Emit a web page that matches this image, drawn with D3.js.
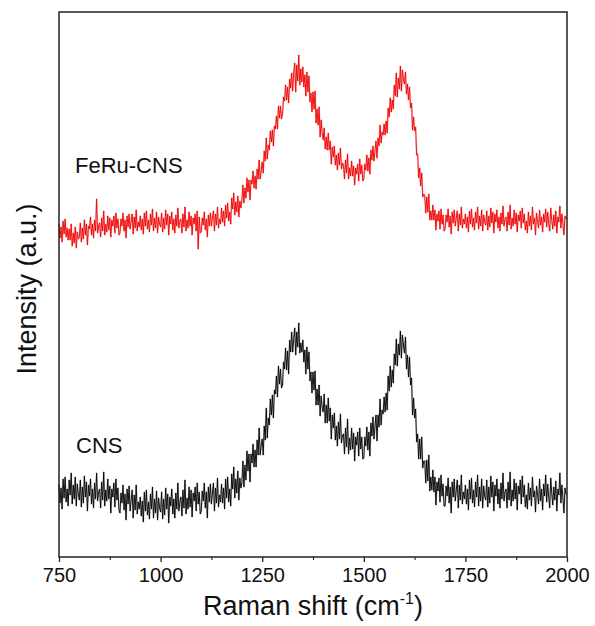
<!DOCTYPE html>
<html>
<head>
<meta charset="utf-8">
<script src="https://cdn.jsdelivr.net/npm/d3@7/dist/d3.min.js"></script>
<style>
  html, body { margin: 0; padding: 0; background: #fff; }
  svg { display: block; font-family: "Liberation Sans", Arial, sans-serif; }
</style>
</head>
<body>
<svg id="chart" width="595" height="626"></svg>
<script>
// Raman shift axis (cm^-1), sampled every 2.5 cm^-1 from 750 to 2000
const shiftStart = 750, shiftStep = 2.5;
const xTicks = [750, 1000, 1250, 1500, 1750, 2000];
const xMinorTicks = [875, 1125, 1375, 1625, 1875];
const seriesNames = ["FeRu-CNS", "CNS"];

// FeRu-CNS intensity (a.u.) (one row = 50 cm^-1)
const feruCNS = [
  333, 319, 330, 315, 336, 323, 338, 320, 329, 317, 328, 317, 333, 311, 324, 314, 330, 309, 325, 318,
  320, 334, 315, 329, 318, 337, 322, 333, 312, 331, 328, 340, 322, 333, 319, 337, 326, 358, 324, 331,
  334, 320, 339, 326, 346, 322, 333, 325, 341, 327, 339, 320, 337, 331, 341, 324, 344, 329, 338, 322,
  324, 338, 331, 344, 326, 337, 319, 341, 330, 343, 328, 336, 343, 323, 340, 329, 347, 326, 335, 330,
  341, 327, 338, 323, 344, 331, 346, 328, 337, 325, 343, 332, 348, 326, 339, 329, 345, 324, 340, 333,
  330, 344, 325, 339, 328, 347, 332, 343, 322, 341, 333, 345, 327, 338, 324, 342, 331, 349, 329, 336,
  338, 324, 343, 330, 350, 326, 337, 329, 345, 331, 341, 322, 339, 333, 343, 326, 346, 308, 340, 324,
  325, 339, 332, 345, 327, 338, 320, 342, 331, 344, 331, 339, 346, 326, 343, 332, 350, 329, 338, 333,
  349, 335, 346, 331, 352, 339, 354, 336, 345, 333, 359, 348, 364, 342, 355, 345, 361, 340, 356, 349,
  357, 372, 354, 369, 359, 379, 365, 377, 357, 377, 373, 386, 369, 381, 368, 388, 378, 397, 378, 386,
  395, 384, 406, 396, 419, 398, 412, 407, 426, 415, 427, 411, 431, 428, 441, 428, 451, 439, 451, 438,
  443, 460, 456, 472, 457, 470, 454, 478, 469, 484, 466, 484, 494, 465, 492, 476, 502, 472, 488, 475,
  490, 470, 482, 461, 485, 465, 481, 455, 464, 445, 465, 448, 466, 434, 448, 432, 450, 420, 437, 425,
  417, 429, 408, 420, 407, 424, 407, 416, 393, 410, 400, 411, 392, 402, 387, 404, 392, 409, 388, 394,
  392, 378, 397, 384, 403, 378, 389, 381, 396, 381, 391, 372, 389, 383, 393, 376, 398, 383, 392, 376,
  378, 393, 387, 402, 386, 399, 383, 407, 397, 411, 396, 406, 416, 399, 419, 411, 432, 414, 425, 422,
  433, 422, 436, 424, 449, 440, 459, 445, 457, 448, 472, 461, 484, 460, 479, 468, 491, 466, 487, 478,
  473, 485, 463, 473, 457, 470, 449, 454, 427, 440, 426, 430, 402, 403, 379, 389, 371, 384, 360, 363,
  361, 344, 360, 345, 363, 337, 346, 337, 352, 337, 347, 327, 343, 336, 346, 328, 348, 333, 342, 326,
  328, 342, 335, 348, 330, 341, 323, 345, 334, 347, 331, 339, 346, 326, 343, 332, 350, 329, 338, 333,
  343, 329, 340, 325, 346, 333, 348, 330, 339, 327, 345, 334, 350, 328, 341, 331, 347, 326, 342, 335,
  332, 346, 327, 341, 330, 349, 334, 345, 324, 343, 335, 347, 329, 340, 326, 344, 333, 351, 331, 338,
  340, 326, 345, 332, 352, 328, 339, 331, 347, 333, 344, 325, 342, 336, 346, 329, 349, 334, 343, 327,
  336, 324, 345, 331, 341, 327, 350, 333, 339, 322, 344, 336, 329, 347, 332, 340, 325, 343, 335, 348,
  330, 345, 334, 326, 349, 337, 328, 342, 331, 346, 324, 340, 335, 351, 329, 343, 333, 322, 341, 338,
  339
];

// CNS intensity (a.u.) (one row = 50 cm^-1)
const cns = [
  73, 54, 69, 48, 78, 59, 80, 55, 68, 51, 77, 62, 84, 53, 72, 58, 80, 51, 73, 63,
  57, 77, 50, 70, 54, 81, 60, 75, 46, 72, 61, 78, 53, 68, 49, 74, 58, 84, 56, 65,
  68, 49, 75, 57, 85, 51, 67, 56, 78, 58, 71, 44, 68, 60, 74, 50, 78, 57, 69, 47,
  44, 64, 54, 72, 47, 63, 37, 68, 53, 71, 46, 57, 67, 39, 62, 47, 72, 43, 55, 48,
  60, 41, 56, 35, 65, 46, 67, 42, 55, 38, 63, 48, 70, 39, 58, 44, 66, 37, 59, 49,
  45, 65, 38, 58, 42, 69, 48, 63, 34, 60, 51, 68, 43, 58, 39, 64, 48, 74, 46, 55,
  60, 41, 67, 49, 77, 43, 59, 48, 70, 50, 67, 40, 64, 56, 70, 46, 74, 53, 65, 43,
  46, 66, 56, 74, 49, 65, 39, 70, 55, 73, 53, 64, 74, 46, 69, 54, 79, 50, 62, 55,
  73, 54, 69, 48, 78, 59, 80, 55, 68, 51, 83, 68, 90, 59, 78, 64, 86, 57, 79, 69,
  74, 96, 70, 92, 77, 106, 86, 103, 75, 103, 94, 113, 90, 107, 90, 117, 102, 129, 102, 112,
  118, 102, 131, 117, 149, 119, 139, 132, 158, 142, 162, 139, 167, 163, 181, 160, 191, 173, 188, 169,
  172, 195, 188, 209, 187, 206, 183, 217, 205, 225, 205, 218, 229, 202, 225, 210, 234, 204, 214, 205,
  217, 195, 207, 183, 210, 188, 205, 176, 185, 164, 185, 167, 186, 152, 168, 152, 172, 141, 161, 150,
  145, 163, 134, 152, 134, 159, 136, 149, 118, 142, 129, 144, 117, 131, 111, 135, 118, 143, 114, 122,
  123, 103, 129, 110, 138, 103, 119, 107, 129, 108, 124, 96, 120, 112, 125, 101, 129, 108, 120, 98,
  99, 120, 111, 130, 107, 125, 101, 134, 121, 140, 118, 130, 142, 116, 142, 130, 158, 132, 147, 143,
  160, 145, 164, 147, 181, 166, 191, 170, 187, 174, 203, 192, 218, 191, 213, 202, 226, 199, 222, 212,
  204, 220, 188, 202, 180, 200, 172, 179, 142, 159, 139, 148, 115, 123, 98, 118, 98, 120, 89, 96,
  96, 74, 97, 76, 102, 66, 80, 67, 87, 65, 80, 52, 75, 66, 79, 55, 82, 61, 73, 51,
  51, 71, 61, 79, 54, 70, 44, 75, 60, 78, 56, 67, 77, 49, 72, 57, 82, 53, 65, 58,
  72, 53, 68, 47, 77, 58, 79, 54, 67, 50, 75, 60, 82, 51, 70, 56, 78, 49, 71, 61,
  57, 77, 50, 70, 54, 81, 60, 75, 46, 72, 61, 78, 53, 68, 49, 74, 58, 84, 56, 65,
  68, 49, 75, 57, 85, 51, 67, 56, 78, 58, 74, 47, 71, 63, 77, 53, 81, 60, 72, 50,
  62, 48, 74, 57, 69, 51, 80, 60, 66, 45, 71, 63, 53, 78, 56, 68, 47, 73, 61, 82,
  55, 73, 60, 49, 79, 64, 52, 70, 57, 76, 46, 68, 62, 84, 54, 72, 59, 44, 69, 63,
  62
];

const seriesColors = ["#ee0000", "#000000"];
const haloColors = ["#f06060", "#707070"];

const svg = d3.select("#chart");
const margin = { left: 59, right: 28, top: 12, bottom: 69 };
const W = 595, H = 626;
const x = d3.scaleLinear().domain([750, 2000]).range([margin.left, W - margin.right]);
const y = d3.scaleLinear().domain([0, 545]).range([H - margin.bottom, margin.top]);

const toPoints = arr => arr.map((v, i) => [shiftStart + i * shiftStep, v]);
const line = d3.line().x(d => x(d[0])).y(d => y(d[1]));

[feruCNS, cns].forEach((arr, k) => {
  const pts = toPoints(arr);
  svg.append("path").datum(pts).attr("d", line)
    .attr("fill", "none").attr("stroke", haloColors[k])
    .attr("stroke-width", 2).attr("stroke-opacity", 0.3)
    .attr("stroke-linejoin", "round");
  svg.append("path").datum(pts).attr("d", line)
    .attr("fill", "none").attr("stroke", seriesColors[k])
    .attr("stroke-width", 0.9).attr("stroke-linejoin", "bevel");
});

// frame
svg.append("rect")
  .attr("x", x(750)).attr("y", margin.top)
  .attr("width", x(2000) - x(750)).attr("height", H - margin.bottom - margin.top)
  .attr("fill", "none").attr("stroke", "#222").attr("stroke-width", 1.5);

// bottom axis
const axisG = svg.append("g").attr("transform", `translate(0,${H - margin.bottom})`);
axisG.call(d3.axisBottom(x).tickValues(xTicks).tickSize(5).tickPadding(6).tickFormat(d3.format("d")));
axisG.select(".domain").remove();
axisG.selectAll(".tick line").attr("stroke", "#222").attr("stroke-width", 1.3);
axisG.selectAll(".tick text").attr("font-size", 20).attr("fill", "#111")
  .attr("font-family", "'Liberation Sans', Arial, sans-serif");
const minorG = svg.append("g").attr("transform", `translate(0,${H - margin.bottom})`);
minorG.call(d3.axisBottom(x).tickValues(xMinorTicks).tickSize(3).tickFormat(""));
minorG.select(".domain").remove();
minorG.selectAll(".tick line").attr("stroke", "#222").attr("stroke-width", 1.1);

// axis titles
const xt = svg.append("text")
  .attr("x", (x(750) + x(2000)) / 2).attr("y", 615)
  .attr("text-anchor", "middle").attr("font-size", 27).attr("fill", "#111");
xt.append("tspan").text("Raman shift (cm");
xt.append("tspan").text("-1").attr("font-size", 16).attr("dy", -11);
xt.append("tspan").text(")").attr("dy", 11);

svg.append("text")
  .attr("transform", `translate(36,${289}) rotate(-90)`)
  .attr("text-anchor", "middle").attr("font-size", 27).attr("fill", "#111")
  .text("Intensity (a.u.)");

// series labels
svg.append("text").attr("x", 75).attr("y", 173).attr("font-size", 22).attr("fill", "#111").text(seriesNames[0]);
svg.append("text").attr("x", 76).attr("y", 453).attr("font-size", 22).attr("fill", "#111").text(seriesNames[1]);
</script>
</body>
</html>
